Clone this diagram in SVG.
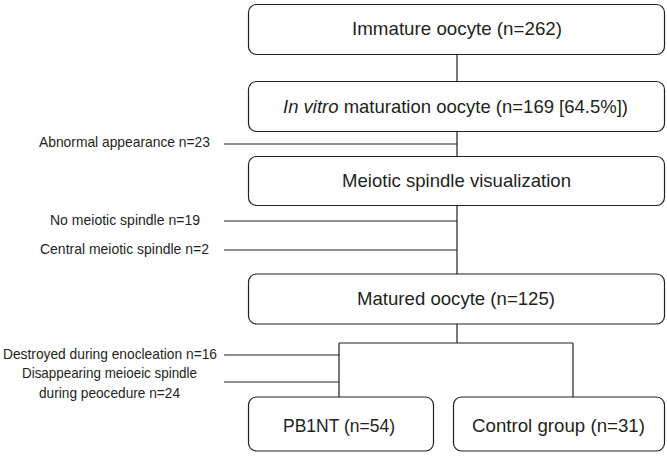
<svg xmlns="http://www.w3.org/2000/svg" width="667" height="456" viewBox="0 0 667 456">
<style>
.box{fill:#fff;stroke:#231f20;stroke-width:1.2}
.c{fill:none;stroke:#231f20;stroke-width:1.2}
.t{font-family:"Liberation Sans",Arial,sans-serif;font-size:19px;fill:#231f20}
.s{font-family:"Liberation Sans",Arial,sans-serif;font-size:15px;fill:#231f20}
</style>
<rect width="667" height="456" fill="#fff"/>
<g id="connectors">
<path class="c" d="M457 54.5V81.5M457 131.5V156.5M457 205.5V274M457 324V343M339 343H573M339 343V397M573 343V397"/>
<path class="c" d="M224 144H457M224 221H457M224 250H457M224 355H339M224 382H339"/>
</g>
<g id="immature">
<rect class="box" x="248.5" y="4.5" width="416" height="50" rx="8"/>
<text class="t" x="352" y="35" textLength="210" lengthAdjust="spacingAndGlyphs">Immature oocyte (n=262)</text>
</g>
<g id="ivm">
<rect class="box" x="248.5" y="81.5" width="416" height="50" rx="8"/>
<text class="t" x="283" y="113" textLength="345" lengthAdjust="spacingAndGlyphs"><tspan font-style="italic">In vitro</tspan> maturation oocyte (n=169 [64.5%])</text>
</g>
<g id="spindle">
<rect class="box" x="248.5" y="156.5" width="416" height="49" rx="8"/>
<text class="t" x="342" y="187" textLength="229" lengthAdjust="spacingAndGlyphs">Meiotic spindle visualization</text>
</g>
<g id="matured">
<rect class="box" x="248.5" y="274" width="416" height="50" rx="8"/>
<text class="t" x="357" y="305" textLength="198" lengthAdjust="spacingAndGlyphs">Matured oocyte (n=125)</text>
</g>
<g id="pb1nt">
<rect class="box" x="248.5" y="397" width="185" height="54" rx="8"/>
<text class="t" x="283" y="432" textLength="112" lengthAdjust="spacingAndGlyphs">PB1NT (n=54)</text>
</g>
<g id="control">
<rect class="box" x="453.5" y="397" width="211" height="54" rx="8"/>
<text class="t" x="472" y="432" textLength="173" lengthAdjust="spacingAndGlyphs">Control group (n=31)</text>
</g>
<g id="labels">
<text class="s" x="39" y="147" textLength="171" lengthAdjust="spacingAndGlyphs">Abnormal appearance n=23</text>
<text class="s" x="50" y="225" textLength="150" lengthAdjust="spacingAndGlyphs">No meiotic spindle n=19</text>
<text class="s" x="40" y="254" textLength="169" lengthAdjust="spacingAndGlyphs">Central meiotic spindle n=2</text>
<text class="s" x="3" y="359" textLength="214" lengthAdjust="spacingAndGlyphs">Destroyed during enocleation n=16</text>
<text class="s" x="22" y="378" textLength="175" lengthAdjust="spacingAndGlyphs">Disappearing meioeic spindle</text>
<text class="s" x="39" y="398" textLength="141" lengthAdjust="spacingAndGlyphs">during peocedure n=24</text>
</g>
</svg>
